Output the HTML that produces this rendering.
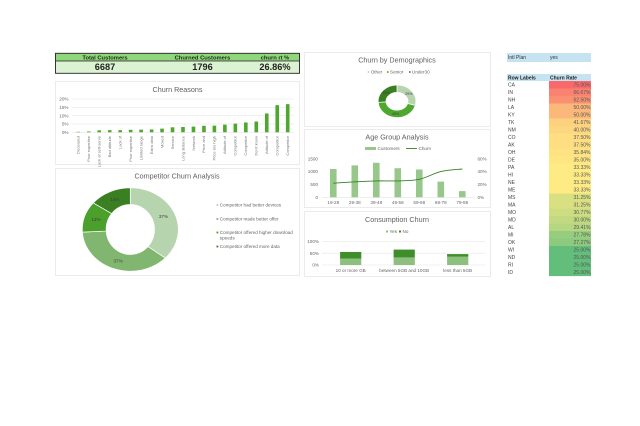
<!DOCTYPE html>
<html>
<head>
<meta charset="utf-8">
<style>
html,body{margin:0;padding:0;background:#fff;width:640px;height:426px;overflow:hidden}
svg{display:block;font-family:"Liberation Sans",sans-serif;filter:blur(.3px)}
text{fill:#595959}
.card{fill:#fff;stroke:#e6e6e6;stroke-width:.8}
.title{font-size:7.2px;text-anchor:middle;fill:#606060}
.tick{font-size:4.6px;fill:#666}
.grid{stroke:#e6e6e6;stroke-width:.6}
</style>
</head>
<body>
<svg id="dash" width="640" height="426" viewBox="0 0 640 426" xmlns="http://www.w3.org/2000/svg">
  <g>
    <rect x="55.5" y="53.3" width="244" height="7.7" fill="#8fd67c"/>
    <rect x="55.5" y="61" width="244" height="12.3" fill="#dbf2d3"/>
    <rect x="55.5" y="53.3" width="244" height="20" fill="none" stroke="#222" stroke-width=".9"/>
    <line x1="55.5" y1="61" x2="299.5" y2="61" stroke="#222" stroke-width=".8"/>
    <text x="105" y="59.5" text-anchor="middle" font-size="5.8" font-weight="700" style="fill:#1c2a18">Total Customers</text>
    <text x="202.5" y="59.5" text-anchor="middle" font-size="5.8" font-weight="700" style="fill:#1c2a18">Churned Customers</text>
    <text x="275" y="59.5" text-anchor="middle" font-size="5.8" font-weight="700" style="fill:#1c2a18">churn rt %</text>
    <text x="105" y="70.2" text-anchor="middle" font-size="9.2" font-weight="700" style="fill:#222">6687</text>
    <text x="202.5" y="70.2" text-anchor="middle" font-size="9.2" font-weight="700" style="fill:#222">1796</text>
    <text x="275" y="70.2" text-anchor="middle" font-size="9.2" font-weight="700" style="fill:#222">26.86%</text>
  </g>

  <g id="reasons">
    <rect class="card" x="55.5" y="81.5" width="244" height="83"/>
    <text class="title" x="177.5" y="92">Churn Reasons</text>
  </g>

  <g id="competitor">
    <rect class="card" x="55.5" y="168.5" width="244" height="107"/>
    <text class="title" x="177" y="178.5">Competitor Churn Analysis</text>
  </g>

  <g id="demo">
    <rect class="card" x="304.5" y="52.5" width="186" height="74"/>
    <text class="title" x="397" y="62.5">Churn by Demographics</text>
  </g>

  <g id="age">
    <rect class="card" x="304.5" y="129.5" width="186" height="78"/>
    <text class="title" x="397" y="139.5">Age Group Analysis</text>
  </g>

  <g id="consumption">
    <rect class="card" x="304.5" y="211.5" width="186" height="65"/>
    <text class="title" x="397" y="222">Consumption Churn</text>
  </g>

  <g id="pivot">
    <rect x="507" y="53" width="84" height="8" fill="#c6e3f2"/>
    <line x1="507" y1="61.3" x2="591" y2="61.3" stroke="#8fc3de" stroke-width=".5"/>
    <text x="508" y="59" font-size="5" style="fill:#333">Intl Plan</text>
    <text x="550" y="59" font-size="5" style="fill:#333">yes</text>
    <rect x="507" y="74" width="84" height="7" fill="#c6e3f2"/>
    <text x="508" y="79.3" font-size="5" font-weight="700" style="fill:#222">Row Labels</text>
    <text x="550" y="79.3" font-size="5" font-weight="700" style="fill:#222">Churn Rate</text>
  </g>
</svg>
<script>
var reasonLabels = ["Deceased","Poor expertise","Lack of self-serve","Bad attitude","Lack of","Poor expertise","Limited range","Extra data","Moved","Service","Long distance","Network","Price and","Price too high","Attitude of","Competitor","Competitor","Don't know","Attitude of","Competitor","Competitor"];
var reasonValues = [0.3,0.5,1.2,1.3,1.3,1.5,1.6,1.7,2.2,3,3.2,3.4,3.9,4,4.6,5.2,5.9,6.5,11.3,16.3,16.9];
var reasonTicks = [0,5,10,15,20];

var competitorLabels = ["Competitor had better devices","Competitor made better offer","Competitor offered higher download speeds","Competitor offered more data"];
var competitorValues = [37,37,12,14];

var demoLabels = ["Other","Senior","Under30"];
var demoValues = [29,45,26];

var ageLabels = ["19-28","29-38","39-48","49-58","59-68","69-78","79-88"];
var ageCustomers = [1100,1240,1340,1130,1080,610,240];
var ageChurn = [22,24,25.5,25.5,28,40,44];
var ageLeftTicks = [0,500,1000,1500];
var ageRightTicks = [0,20,40,60];

var consumptionLabels = ["10 or more GB","between 5GB and 10GB","less than 5GB"];
var consumptionYes = [27,32,35];
var consumptionNo = [28,33,11];
var consumptionTicks = [0,50,100];

var stateLabels = ["CA","IN","NH","LA","KY","TK","NM","CO","AK","OH","DE","PA","HI","NE","ME","MS","MA","MO","MD","AL","MI","OK","WI","ND","RI","ID"];
var stateRates = [75,66.67,62.5,50,50,41.67,40,37.5,37.5,35.84,35,33.33,33.33,33.33,33.33,31.25,31.25,30.77,30,29.41,27.78,27.27,25,25,25,25];

var NS = "http://www.w3.org/2000/svg";
function mk(parent, tag, attrs, txt) {
  var e = document.createElementNS(NS, tag);
  for (var k in attrs) e.setAttribute(k, attrs[k]);
  if (txt !== undefined) e.textContent = txt;
  parent.appendChild(e);
  return e;
}
function donutPath(cx, cy, inner, outer, a0, a1) {
  function p(r, a) { return (cx + r[0] * Math.sin(a)).toFixed(2) + " " + (cy - r[1] * Math.cos(a)).toFixed(2); }
  var large = a1 - a0 > Math.PI ? 1 : 0;
  return "M" + p(outer, a0) + "A" + outer[0] + " " + outer[1] + " 0 " + large + " 1 " + p(outer, a1) + "L" + p(inner, a1) + "A" + inner[0] + " " + inner[1] + " 0 " + large + " 0 " + p(inner, a0) + "Z";
}
function drawDonut(parent, values, colors, cx, cy, inner, outer, fs) {
  var total = values.reduce(function (a, b) { return a + b; }, 0), acc = 0;
  values.forEach(function (v, i) {
    var a0 = acc / total * 2 * Math.PI;
    acc += v;
    var a1 = acc / total * 2 * Math.PI;
    var s = mk(parent, "path", { d: donutPath(cx, cy, inner, outer, a0, a1), fill: colors[i], stroke: "#fff", "stroke-width": 0.7 });
    
    
    var m = (a0 + a1) / 2;
    var rx = (inner[0] + outer[0]) / 2, ry = (inner[1] + outer[1]) / 2;
    var t = mk(parent, "text", { x: cx + rx * Math.sin(m), y: cy - ry * Math.cos(m) + fs * 0.35, "text-anchor": "middle", "font-size": fs, style: "fill:#404040" }, Math.round(v / total * 100) + "%");
    
    
  });
}

/* Churn reasons */
(function () {
  var g = document.getElementById("reasons");
  var y = function (v) { return 132.3 - v * 1.665; };
  var x = function (i) { return 78.3 + i * 10.47; };
  reasonTicks.forEach(function (t) {
    var l = mk(g, "line", { x1: 72, x2: 294, y1: y(t), y2: y(t), "class": "grid" });
    
    
    var lb = mk(g, "text", { x: 68.5, y: y(t) + 1.6, "text-anchor": "end", "class": "tick" }, t + "%");
    
    
  });
  reasonValues.forEach(function (v, i) {
    var b = mk(g, "rect", { x: x(i) - 1.8, y: y(v), width: 3.6, height: y(0) - y(v), fill: "#4ea72e" });
    
    
    var t = mk(g, "text", { transform: "translate(" + (x(i) + 1.3) + ",136) rotate(-90)", "text-anchor": "end", "font-size": 4, style: "fill:#777" }, reasonLabels[i]);
    
    
  });
})();

/* Competitor donut */
(function () {
  var g = document.getElementById("competitor");
  var colors = ["#b6d4ae", "#80b66f", "#4ba02b", "#3a7f22"];
  drawDonut(g, competitorValues, colors, 130.3, 229.5, [24.2, 25], [48, 41.7], 4.6);
  var ys = [205, 219, 232.5, 246.5];
  competitorLabels.forEach(function (s, i) {
    var d = mk(g, "rect", { x: 216.5, y: ys[i] - 0.9, width: 1.8, height: 1.8, fill: colors[i] });
    
    
    var t = mk(g, "text", { x: 219.8, y: ys[i] + 1.5, "font-size": 4.6, style: "fill:#666" });
    
    
    if (i === 2) {
      var a = mk(t, "tspan", { x: 219.8 }, "Competitor offered higher download");
      
      
      var b = mk(t, "tspan", { x: 219.8, dy: 5.7 }, "speeds");
      
      
    } else {
      t.textContent = s;
    }
  });
})();

/* Demographics donut */
(function () {
  var g = document.getElementById("demo");
  var colors = ["#b6d4ae", "#4ea72e", "#3a7f22"];
  var xs = [367.7, 387, 409];
  demoLabels.forEach(function (s, i) {
    var d = mk(g, "rect", { x: xs[i], y: 71.2, width: 1.6, height: 1.6, fill: colors[i] });
    
    
    var t = mk(g, "text", { x: xs[i] + 3, y: 73.6, "font-size": 4.6, style: "fill:#666" }, s);
    
    
  });
  drawDonut(g, demoValues, colors, 397, 101.3, [11, 8.9], [18.8, 16.3], 3.6);
})();

/* Age group */
(function () {
  var g = document.getElementById("age");
  var x = function (i) { return 333.3 + i * 21.5; };
  var yL = function (v) { return 197.3 - v * 38.6 / 1500; };
  var yR = function (v) { return 197.3 - v * 38.6 / 60; };
  var lg = mk(g, "rect", { x: 365, y: 147, width: 11, height: 3, fill: "#97c78a" });
  
  
  var lt = mk(g, "text", { x: 377.5, y: 150, "font-size": 4.6, style: "fill:#666" }, "Customers");
  
  
  var ll = mk(g, "line", { x1: 406, x2: 417, y1: 148.5, y2: 148.5, stroke: "#3a7f22", "stroke-width": 0.9 });
  
  
  var lc = mk(g, "text", { x: 418.5, y: 150, "font-size": 4.6, style: "fill:#666" }, "Churn");
  
  
  ageLeftTicks.forEach(function (t) {
    var l = mk(g, "text", { x: 318, y: yL(t) + 1.6, "text-anchor": "end", "class": "tick" }, t);
    
    
  });
  ageRightTicks.forEach(function (t) {
    var l = mk(g, "text", { x: 477.5, y: yR(t) + 1.6, "class": "tick" }, t + "%");
    
    
  });
  var ax = mk(g, "line", { x1: 322, x2: 473, y1: yL(0), y2: yL(0), stroke: "#e2e2e2", "stroke-width": 0.6 });
  
  
  ageCustomers.forEach(function (v, i) {
    var b = mk(g, "rect", { x: x(i) - 3.3, y: yL(v), width: 6.6, height: yL(0) - yL(v), fill: "#97c78a" });
    
    
    var t = mk(g, "text", { x: x(i), y: 204, "text-anchor": "middle", "class": "tick" }, ageLabels[i]);
    
    
  });
  var pts = ageChurn.map(function (v, i) { return [x(i), yR(v)]; });
  var d = "M" + pts[0][0] + " " + pts[0][1];
  for (var i = 0; i < pts.length - 1; i++) {
    var p0 = pts[Math.max(i - 1, 0)], p1 = pts[i], p2 = pts[i + 1], p3 = pts[Math.min(i + 2, pts.length - 1)];
    d += "C" + (p1[0] + (p2[0] - p0[0]) / 6) + " " + (p1[1] + (p2[1] - p0[1]) / 6) + " " + (p2[0] - (p3[0] - p1[0]) / 6) + " " + (p2[1] - (p3[1] - p1[1]) / 6) + " " + p2[0] + " " + p2[1];
  }
  var line = mk(g, "path", { d: d, fill: "none", stroke: "#3a7f22", "stroke-width": 0.9 });
  
  
})();

/* Consumption */
(function () {
  var g = document.getElementById("consumption");
  var x = function (i) { return 350.7 + i * 53.5; };
  var y = function (v) { return 265 - v * 0.237; };
  consumptionTicks.forEach(function (t) {
    var l = mk(g, "line", { x1: 322, x2: 485, y1: y(t), y2: y(t), "class": "grid" });
    
    
    var lb = mk(g, "text", { x: 319, y: y(t) + 1.6, "text-anchor": "end", "class": "tick" }, t + "%");
    
    
  });
  var m1 = mk(g, "rect", { x: 386, y: 230.5, width: 2, height: 2, fill: "#8dbf7d" });
  
  
  var t1 = mk(g, "text", { x: 389.5, y: 233.2, "font-size": 4.6, style: "fill:#666" }, "Yes");
  
  
  var m2 = mk(g, "rect", { x: 399, y: 230.5, width: 2, height: 2, fill: "#3e8e2a" });
  
  
  var t2 = mk(g, "text", { x: 402.5, y: 233.2, "font-size": 4.6, style: "fill:#666" }, "No");
  
  
  consumptionLabels.forEach(function (s, i) {
    var yes = consumptionYes[i], no = consumptionNo[i];
    var a = mk(g, "rect", { x: x(i) - 10.6, y: y(yes), width: 21.2, height: y(0) - y(yes), fill: "#8dbf7d" });
    
    
    var b = mk(g, "rect", { x: x(i) - 10.6, y: y(yes + no), width: 21.2, height: y(yes) - y(yes + no), fill: "#3e8e2a" });
    
    
    var t = mk(g, "text", { x: x(i), y: 272, "text-anchor": "middle", "class": "tick" }, s);
    
    
  });
})();

/* Pivot table */
(function () {
  var g = document.getElementById("pivot");
  var lo = [99, 190, 123], mid = [255, 235, 132], hi = [248, 105, 107];
  var sorted = stateRates.slice().sort(function (a, b) { return a - b; });
  var median = sorted[Math.floor(sorted.length / 2)];
  var min = sorted[0], max = sorted[sorted.length - 1];
  function color(v) {
    var a, b, t;
    if (v >= median) { a = mid; b = hi; t = (v - median) / (max - median); }
    else { a = lo; b = mid; t = (v - min) / (median - min); }
    return "rgb(" + a.map(function (c, i) { return Math.round(c + (b[i] - c) * t); }).join(",") + ")";
  }
  stateLabels.forEach(function (s, i) {
    var top = 81 + i * 7.5;
    var r = mk(g, "rect", { x: 549, y: top, width: 42, height: 7.6, fill: color(stateRates[i]) });
    
    
    var a = mk(g, "text", { x: 508, y: top + 5.7, "font-size": 5, style: "fill:#444" }, s);
    
    
    var b = mk(g, "text", { x: 590.5, y: top + 5.7, "text-anchor": "end", "font-size": 5, style: "fill:#555" }, stateRates[i].toFixed(2) + "%");
    
    
  });
})();
</script>
</body>
</html>
